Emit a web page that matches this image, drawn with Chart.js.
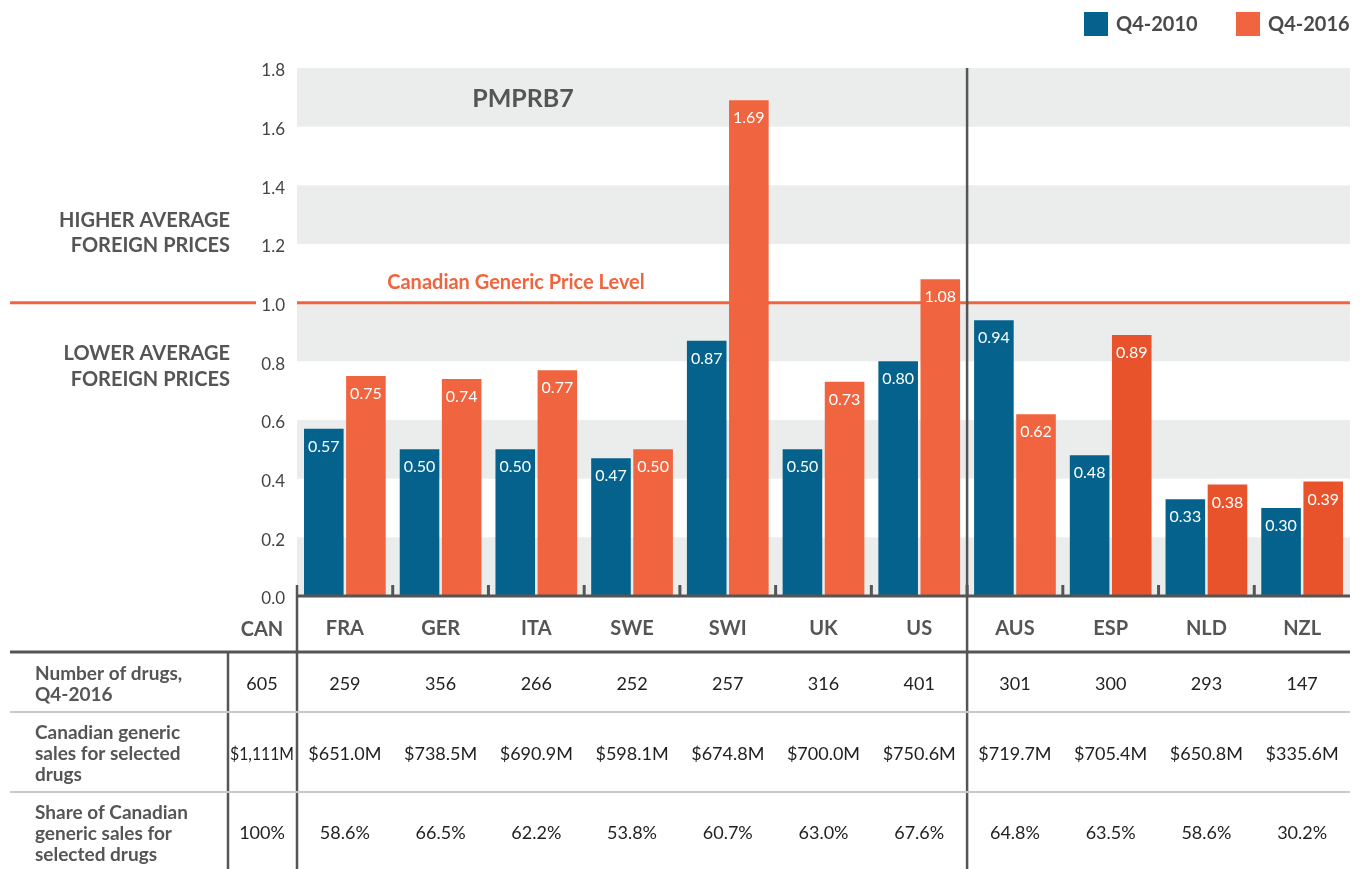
<!DOCTYPE html>
<html>
<head>
<meta charset="utf-8">
<script src="https://cdn.jsdelivr.net/npm/chart.js@4/dist/chart.umd.min.js"></script>
<style>
  html, body { margin: 0; padding: 0; background: #fff; }
  #wrap { width: 1361px; height: 869px; position: relative; }
</style>
</head>
<body>
<div id="wrap"><canvas id="chart" width="1361" height="869"></canvas></div>
<script>
// data
const countries = ['FRA', 'GER', 'ITA', 'SWE', 'SWI', 'UK', 'US', 'AUS', 'ESP', 'NLD', 'NZL'];
const q4_2010 = [0.57, 0.50, 0.50, 0.47, 0.87, 0.50, 0.80, 0.94, 0.48, 0.33, 0.30];
const q4_2016 = [0.75, 0.74, 0.77, 0.50, 1.69, 0.73, 1.08, 0.62, 0.89, 0.38, 0.39];
const seriesNames = ['Q4-2010', 'Q4-2016'];
const yTicks = [0, 0.2, 0.4, 0.6, 0.8, 1.0, 1.2, 1.4, 1.6, 1.8];
const priceLevel = 1.0;
const groupSplitAfter = 'US'; // PMPRB7 group ends here

// table below the chart (first entry = CAN)
const baseCountry = 'CAN';
const drugCounts = ['605', '259', '356', '266', '252', '257', '316', '401', '301', '300', '293', '147'];
const salesLabels = ['$1,111M', '$651.0M', '$738.5M', '$690.9M', '$598.1M', '$674.8M', '$700.0M', '$750.6M', '$719.7M', '$705.4M', '$650.8M', '$335.6M'];
const shareLabels = ['100%', '58.6%', '66.5%', '62.2%', '53.8%', '60.7%', '63.0%', '67.6%', '64.8%', '63.5%', '58.6%', '30.2%'];
const rowTitles = [
  ['Number of drugs,', 'Q4-2016'],
  ['Canadian generic', 'sales for selected', 'drugs'],
  ['Share of Canadian', 'generic sales for', 'selected drugs']
];

const FONT = 'Lato, "Open Sans", sans-serif';
const BLUE = '#04628c';
const ORANGE = '#f0643f';
const ORANGE_DARK = '#e8532b';
const GREY_TEXT = '#555555';
const orangeColors = countries.map(c => ['ESP', 'NLD', 'NZL'].includes(c) ? ORANGE_DARK : ORANGE);

const bandsPlugin = {
  id: 'bands',
  beforeDatasetsDraw(chart) {
    const { ctx, chartArea, scales: { y } } = chart;
    ctx.save();
    ctx.fillStyle = '#ebecec';
    for (let i = 0; i < yTicks.length - 1; i += 2) {
      const top = y.getPixelForValue(yTicks[i + 1]);
      const bot = y.getPixelForValue(yTicks[i]);
      ctx.fillRect(chartArea.left, top, chartArea.right - chartArea.left, bot - top);
    }
    // canadian price level line
    const ly = y.getPixelForValue(priceLevel);
    ctx.strokeStyle = ORANGE;
    ctx.lineWidth = 3;
    ctx.beginPath();
    ctx.moveTo(10, ly); ctx.lineTo(256, ly);
    ctx.moveTo(chartArea.left, ly); ctx.lineTo(chartArea.right, ly);
    ctx.stroke();
    ctx.restore();
  }
};

const decorPlugin = {
  id: 'decor',
  afterDatasetsDraw(chart) {
    const { ctx, chartArea, scales: { x, y } } = chart;
    const H = chart.height;
    ctx.save();

    // value labels inside bars
    ctx.font = '16px ' + FONT;
    ctx.fillStyle = '#fff';
    ctx.textAlign = 'center';
    ctx.textBaseline = 'middle';
    chart.data.datasets.forEach((ds, di) => {
      chart.getDatasetMeta(di).data.forEach((bar, i) => {
        ctx.fillText(ds.data[i].toFixed(2), bar.x, bar.y + 18);
      });
    });

    // axis line and category boundary ticks
    const y0 = y.getPixelForValue(0);
    const step = x.getPixelForValue(1) - x.getPixelForValue(0);
    ctx.strokeStyle = GREY_TEXT;
    ctx.lineWidth = 3;
    ctx.beginPath();
    ctx.moveTo(chartArea.left, y0); ctx.lineTo(chartArea.right, y0);
    for (let i = 1; i < countries.length; i++) {
      const bx = x.getPixelForValue(i) - step / 2;
      ctx.moveTo(bx, y0 - 11); ctx.lineTo(bx, y0);
    }
    ctx.stroke();

    // left axis line continues down through the table
    ctx.lineWidth = 2.5;
    ctx.beginPath();
    ctx.moveTo(chartArea.left, y0 - 11); ctx.lineTo(chartArea.left, H);
    // group split
    const si = countries.indexOf(groupSplitAfter);
    const sx = x.getPixelForValue(si) + step / 2;
    ctx.moveTo(sx, chartArea.top); ctx.lineTo(sx, H);
    ctx.stroke();

    // titles inside plot
    ctx.textAlign = 'center';
    ctx.fillStyle = GREY_TEXT;
    ctx.font = 'bold 25px ' + FONT;
    ctx.fillText('PMPRB7', 523, (y.getPixelForValue(1.8) + y.getPixelForValue(1.6)) / 2 + 2);
    ctx.fillStyle = ORANGE;
    ctx.font = 'bold 20px ' + FONT;
    ctx.fillText('Canadian Generic Price Level', 516, y.getPixelForValue(priceLevel) - 20);

    // side notes
    ctx.textAlign = 'right';
    ctx.fillStyle = GREY_TEXT;
    ctx.font = 'bold 20px ' + FONT;
    ctx.fillText('HIGHER AVERAGE', 230, 221);
    ctx.fillText('FOREIGN PRICES', 230, 246);
    ctx.fillText('LOWER AVERAGE', 230, 354);
    ctx.fillText('FOREIGN PRICES', 230, 380);

    // legend
    const legendX = [1084, 1236];
    seriesNames.forEach((name, i) => {
      ctx.fillStyle = i === 0 ? BLUE : ORANGE;
      ctx.fillRect(legendX[i], 12, 24, 24);
      ctx.fillStyle = '#4a4a4a';
      ctx.textAlign = 'left';
      ctx.font = 'bold 20px ' + FONT;
      ctx.fillText(name, legendX[i] + 32, 25);
    });

    // table
    const canX = chartArea.left - 35;
    ctx.fillStyle = GREY_TEXT;
    ctx.textAlign = 'center';
    ctx.font = 'bold 20px ' + FONT;
    ctx.fillText(baseCountry, canX, 630);

    ctx.strokeStyle = GREY_TEXT;
    ctx.lineWidth = 3;
    ctx.beginPath();
    ctx.moveTo(10, 652); ctx.lineTo(chartArea.right, 652);
    ctx.stroke();
    ctx.lineWidth = 2.5;
    ctx.beginPath();
    ctx.moveTo(228, 652); ctx.lineTo(228, H);
    ctx.stroke();
    ctx.strokeStyle = '#c9c9c9';
    ctx.lineWidth = 2;
    ctx.beginPath();
    ctx.moveTo(10, 712); ctx.lineTo(chartArea.right, 712);
    ctx.moveTo(10, 792); ctx.lineTo(chartArea.right, 792);
    ctx.stroke();

    const rows = [drugCounts, salesLabels, shareLabels];
    const rowY = [684, 754, 833];
    const titleY = [[674, 695], [733, 754, 775], [813, 834, 855]];
    rows.forEach((vals, r) => {
      ctx.font = '18px ' + FONT;
      ctx.fillStyle = '#222';
      ctx.textAlign = 'center';
      vals.forEach((v, i) => {
        const cx = i === 0 ? canX : x.getPixelForValue(i - 1);
        const maxW = i === 0 ? 64 : step - 8;
        ctx.fillText(v, cx, rowY[r], maxW);
      });
      ctx.font = 'bold 19px ' + FONT;
      ctx.fillStyle = GREY_TEXT;
      ctx.textAlign = 'left';
      rowTitles[r].forEach((t, k) => ctx.fillText(t, 35, titleY[r][k]));
    });

    ctx.restore();
  }
};

new Chart(document.getElementById('chart'), {
  type: 'bar',
  data: {
    labels: countries,
    datasets: [
      { label: seriesNames[0], data: q4_2010, backgroundColor: BLUE },
      { label: seriesNames[1], data: q4_2016, backgroundColor: orangeColors }
    ]
  },
  options: {
    responsive: false,
    animation: false,
    categoryPercentage: 0.88,
    barPercentage: 0.94,
    layout: { padding: { left: 0, right: 11, top: 68, bottom: 0 } },
    plugins: { legend: { display: false }, tooltip: { enabled: false } },
    scales: {
      x: {
        grid: { display: false, drawTicks: false },
        border: { display: false },
        ticks: { color: GREY_TEXT, font: { family: FONT, size: 20, weight: 'bold' }, padding: 21 },
        afterFit(s) { s.height = 869 - 596; }
      },
      y: {
        min: 0,
        max: 1.8,
        afterBuildTicks(s) { s.ticks = yTicks.map(v => ({ value: v })); },
        grid: { display: false, drawTicks: false },
        border: { display: false },
        ticks: { color: '#444', font: { family: FONT, size: 17 }, padding: 12, labelOffset: 3, callback: v => v.toFixed(1) },
        afterFit(s) { s.width = 297; }
      }
    }
  },
  plugins: [bandsPlugin, decorPlugin]
});
</script>
</body>
</html>
